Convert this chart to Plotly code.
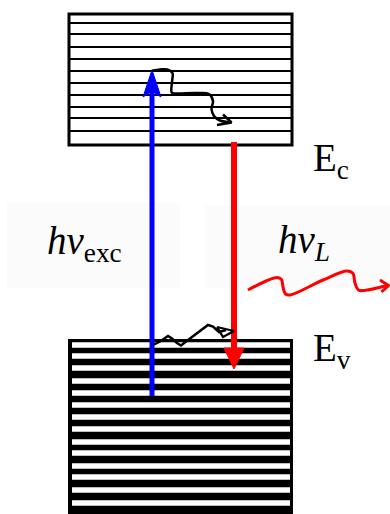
import plotly.graph_objects as go

# ---------------- data (diagram coordinates, px) ----------------
# conduction band (upper block of levels)
cb_x = [69, 292]
cb_edges = [14, 145]
cb_levels = [23, 34, 47, 59, 71, 83, 95, 107, 118, 131]

# valence band (lower, densely filled block)
vb_x = [69, 292]
vb_edges = [340, 520]
vb_gaps = [345, 356, 368, 381, 393, 405, 417, 429, 442, 453, 466, 477, 490, 503]

# excitation (blue, up) and luminescence (red, down) transitions
exc_x = [152, 152]
exc_y = [396, 70]
lum_x = [234, 234]
lum_y = [142, 369]

# non-radiative relaxation in the conduction band
relax_cb_x = [151.7, 160, 167, 172.5, 172, 171.7, 175, 196, 209, 213, 211.5, 214, 220, 231.5]
relax_cb_y = [70.7, 69.5, 69.5, 73, 82, 92.5, 93.5, 93, 94, 101, 109, 116, 120.5, 122.5]
relax_cb_head_x = [217, 231.5, 223]
relax_cb_head_y = [125, 122.5, 114.5]

# relaxation near the valence band edge
relax_vb_x = [153, 160, 168, 172, 177, 181, 190, 208, 213, 219, 226]
relax_vb_y = [345, 341.5, 336, 338.5, 343, 345.5, 338.5, 325, 326.5, 332, 330]
relax_vb_head_x = [217, 234, 223, 217]
relax_vb_head_y = [327, 331, 337, 327]

# emitted photon (wavy red arrow)
photon_x = [248, 265, 277, 281.5, 283, 285.5, 290, 323, 347, 353, 355, 358.5, 364, 387]
photon_y = [290, 281.5, 277.5, 279.5, 287, 294, 295, 280, 271, 273.5, 283, 290, 290.5, 285.5]
photon_head_x = [380, 388.5, 381.5]
photon_head_y = [280, 285.5, 292]

# labels
labels = ["<i>hν</i><sub>exc</sub>", "<i>hν</i><sub><i>L</i></sub>", "E<sub>c</sub>", "E<sub>v</sub>"]
label_x = [45, 276, 311, 311]
label_y = [243, 242, 160, 350]

# faint panels behind the photon labels
panel_x = [[7, 180], [205, 392]]
panel_y = [[203, 288], [205, 288]]

# ---------------- figure ----------------
fig = go.Figure()
shapes = []

for px, py in zip(panel_x, panel_y):
    shapes.append(dict(type="rect", xref="x", yref="y", x0=px[0], x1=px[1], y0=py[0], y1=py[1],
                       fillcolor="#fbfbfb", line=dict(width=0), layer="below"))

# conduction band
shapes.append(dict(type="rect", xref="x", yref="y", x0=cb_x[0], x1=cb_x[1], y0=cb_edges[0], y1=cb_edges[1],
                   fillcolor="white", line=dict(color="black", width=3), layer="below"))
for lv in cb_levels:
    shapes.append(dict(type="line", xref="x", yref="y", x0=cb_x[0], x1=cb_x[1], y0=lv, y1=lv,
                       line=dict(color="black", width=2), layer="below"))

# valence band
shapes.append(dict(type="rect", xref="x", yref="y", x0=vb_x[0] - 1, x1=vb_x[1] + 1, y0=vb_edges[0] - 1, y1=vb_edges[1],
                   fillcolor="black", line=dict(width=0), layer="below"))
for g in vb_gaps:
    shapes.append(dict(type="rect", xref="x", yref="y", x0=vb_x[0] + 3, x1=vb_x[1] - 2, y0=g - 2.7, y1=g + 2.7,
                       fillcolor="white", line=dict(width=0), layer="below"))

fig.update_layout(shapes=shapes)


def line(x, y, color, width, shape="linear", fill=None):
    fig.add_trace(go.Scatter(x=x, y=y, mode="lines", hoverinfo="skip", showlegend=False,
                             line=dict(color=color, width=width, shape=shape),
                             fill=fill, fillcolor=color if fill else None))


# excitation arrow (blue)
blue = "#0000ff"
head_len, head_half, notch = 27, 9, 6
line(exc_x, [exc_y[0], exc_y[1] + head_len - notch], blue, 5)
tx, ty = exc_x[1], exc_y[1]
line([tx, tx - head_half, tx, tx + head_half, tx],
     [ty, ty + head_len, ty + head_len - notch, ty + head_len, ty], blue, 1, fill="toself")

# luminescence arrow (red)
red = "#ff0000"
r_len, r_half = 21, 10
line(lum_x, [lum_y[0], lum_y[1] - r_len + 1], red, 6)
tx, ty = lum_x[1], lum_y[1]
line([tx, tx - r_half, tx + r_half, tx], [ty, ty - r_len, ty - r_len, ty], red, 1, fill="toself")

# relaxation squiggles
line(relax_cb_x, relax_cb_y, "black", 2.5, shape="spline")
line(relax_cb_head_x, relax_cb_head_y, "black", 2.5)
line(relax_vb_x, relax_vb_y, "black", 2.5)
line(relax_vb_head_x, relax_vb_head_y, "black", 2.2)

# emitted photon
line(photon_x, photon_y, red, 3, shape="spline")
line(photon_head_x, photon_head_y, red, 3)

for t, x, y in zip(labels, label_x, label_y):
    fig.add_annotation(x=x, y=y, xref="x", yref="y", text=t, showarrow=False,
                       xanchor="left", yanchor="middle",
                       font=dict(family="Liberation Serif", size=39, color="black"))

fig.update_xaxes(range=[0, 390], visible=False, fixedrange=True)
fig.update_yaxes(range=[514, 0], visible=False, fixedrange=True)
fig.update_layout(width=390, height=514, margin=dict(l=0, r=0, t=0, b=0),
                  paper_bgcolor="white", plot_bgcolor="white")

fig.write_html("out.html", config={"displayModeBar": False},
               post_script="document.body.style.margin='0';")
